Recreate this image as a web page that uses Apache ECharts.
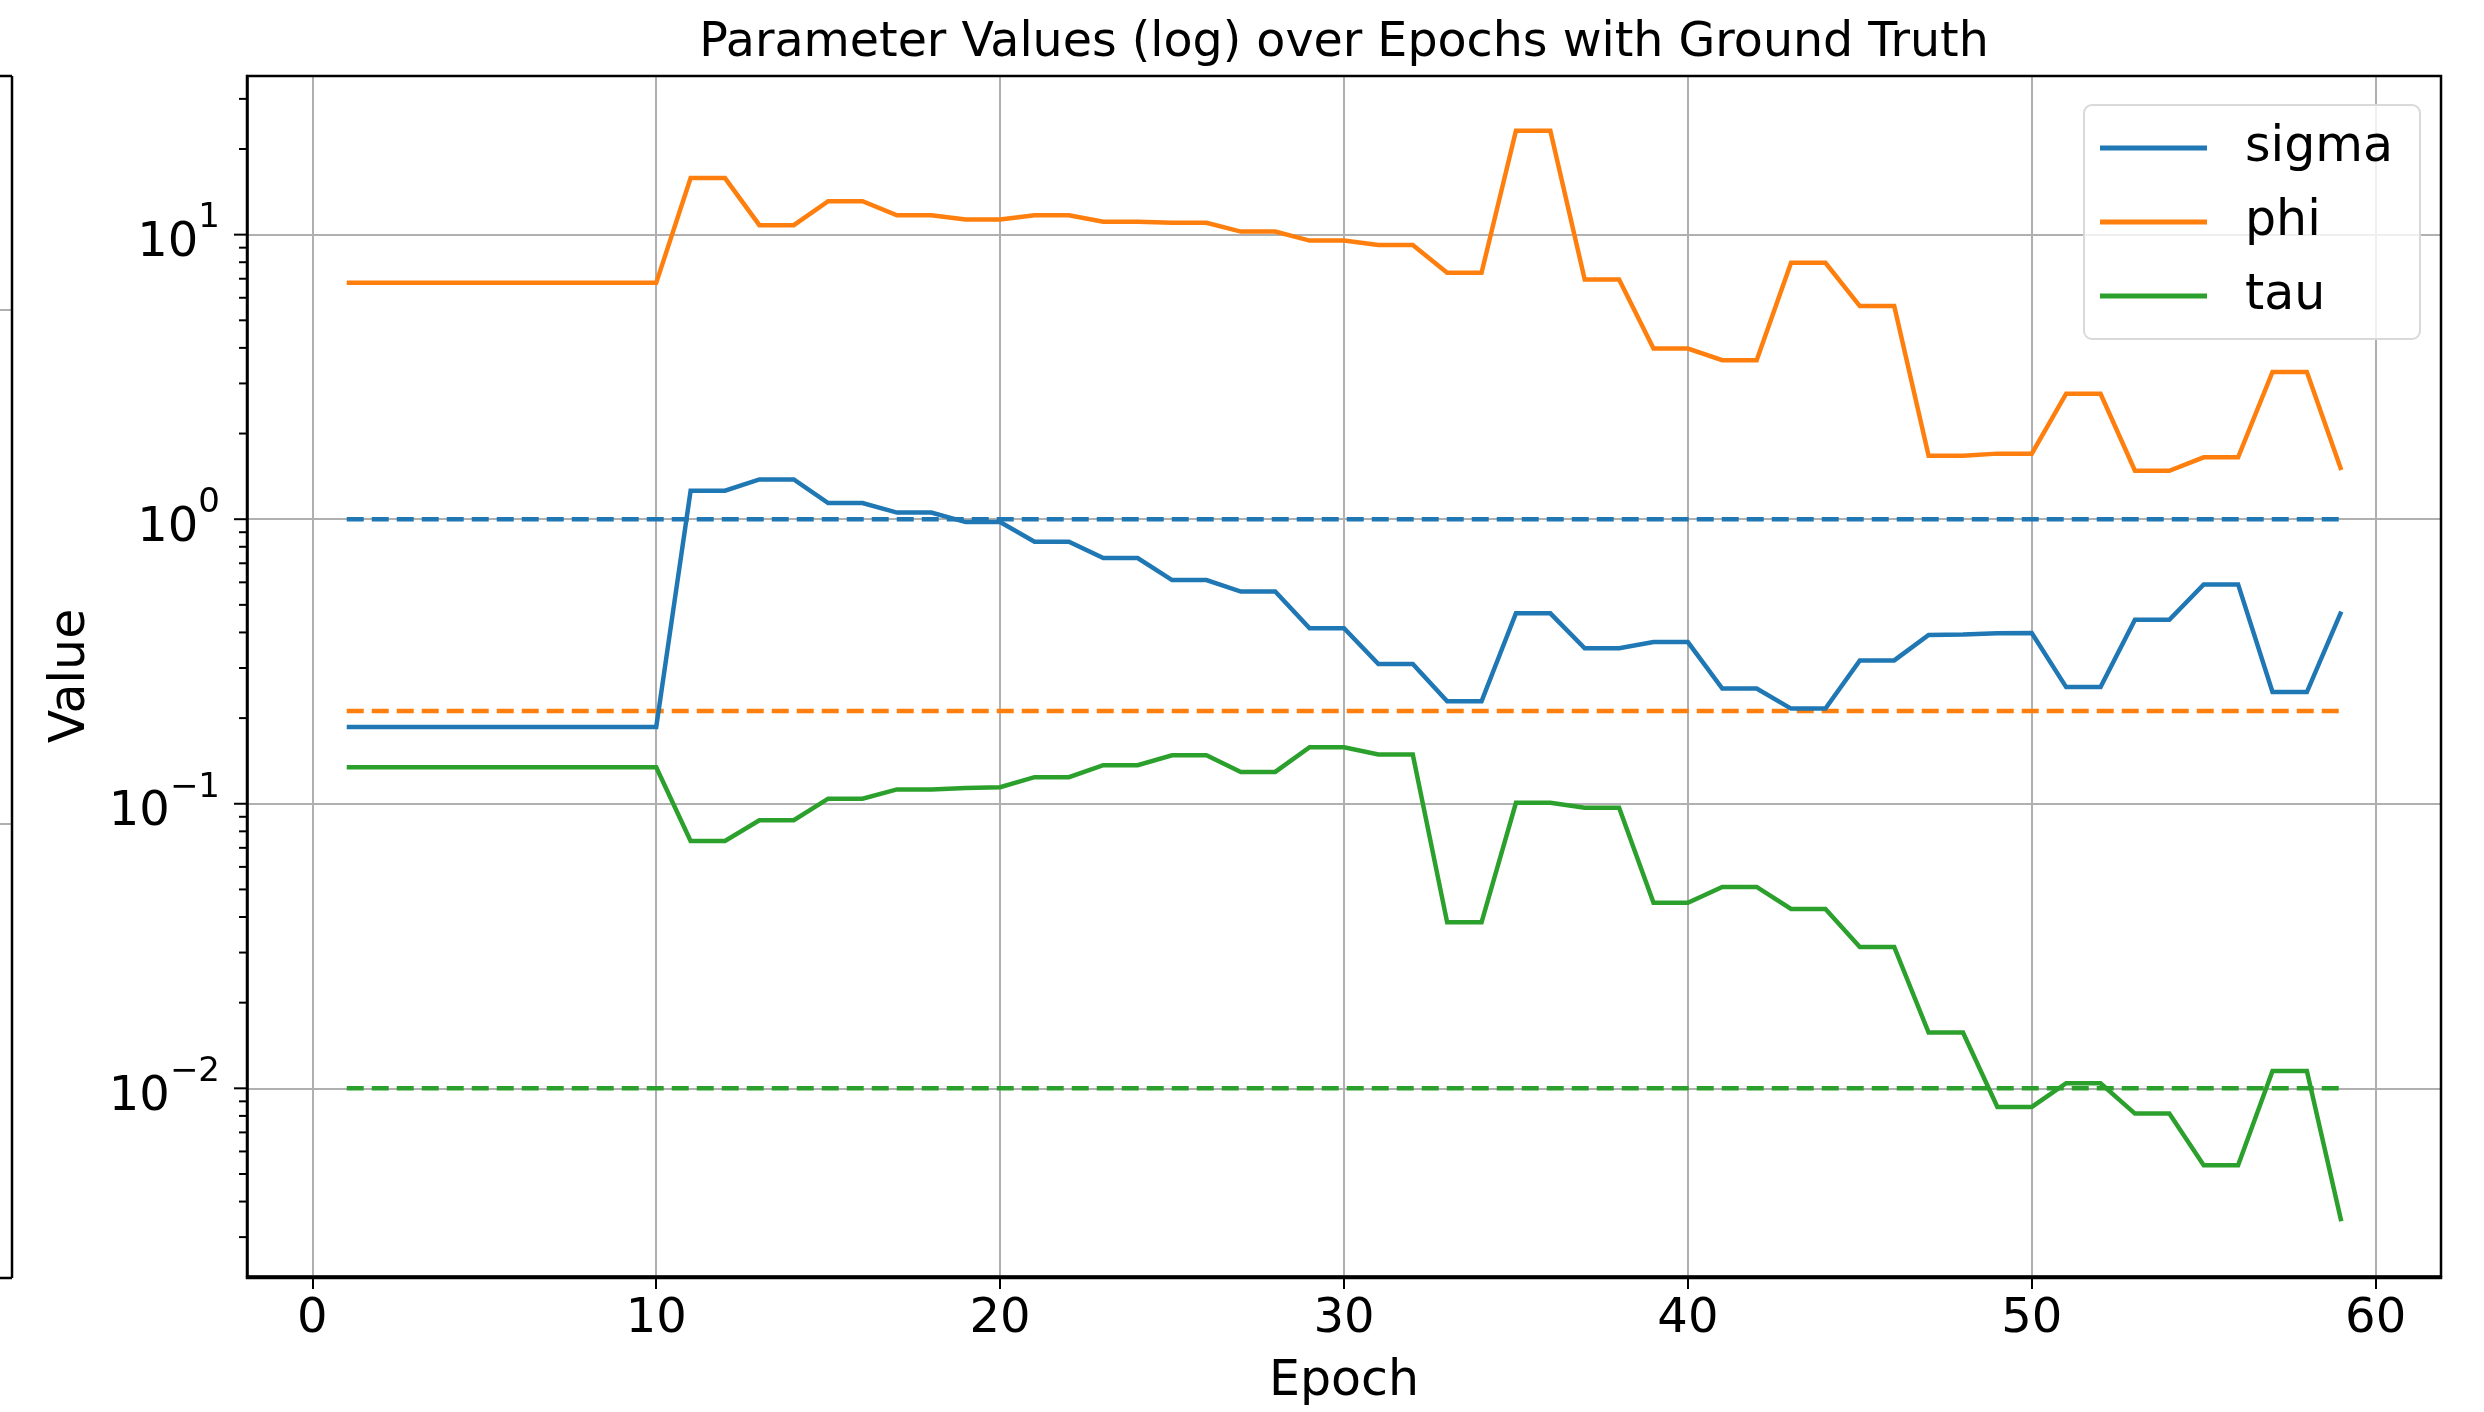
<!DOCTYPE html>
<html>
<head>
<meta charset="utf-8">
<script src="https://cdn.jsdelivr.net/npm/echarts@6/dist/echarts.min.js"></script>
<style>
html,body{margin:0;padding:0;background:#fff;}
#chart{width:2484px;height:1412px;}
</style>
</head>
<body>
<div id="chart"></div>
<script>
// ---- data ----
const epochs = [1,2,3,4,5,6,7,8,9,10,11,12,13,14,15,16,17,18,19,20,21,22,23,24,25,26,27,28,29,30,31,32,33,34,35,36,37,38,39,40,41,42,43,44,45,46,47,48,49,50,51,52,53,54,55,56,57,58,59];
const sigmaValues = [0.186,0.186,0.186,0.186,0.186,0.186,0.186,0.186,0.186,0.186,
  1.26,1.26,1.38,1.38,1.14,1.14,1.055,1.055,0.977,0.977,
  0.834,0.834,0.730,0.730,0.611,0.611,0.557,0.557,0.414,0.414,
  0.310,0.310,0.229,0.229,0.467,0.467,0.352,0.352,0.370,0.370,
  0.254,0.254,0.216,0.216,0.319,0.319,0.392,0.393,0.397,0.398,
  0.257,0.257,0.443,0.443,0.590,0.590,0.247,0.247,0.473];
const phiValues = [6.77,6.77,6.77,6.77,6.77,6.77,6.77,6.77,6.77,6.77,
  15.8,15.8,10.8,10.8,13.1,13.1,11.7,11.7,11.3,11.3,
  11.7,11.7,11.1,11.1,11.0,11.0,10.25,10.25,9.53,9.53,
  9.20,9.20,7.35,7.35,23.2,23.2,6.95,6.95,3.98,3.98,
  3.62,3.62,7.96,7.96,5.61,5.61,1.67,1.67,1.70,1.70,
  2.76,2.76,1.48,1.48,1.65,1.65,3.29,3.29,1.49];
const tauValues = [0.1344,0.1344,0.1344,0.1344,0.1344,0.1344,0.1344,0.1344,0.1344,0.1344,
  0.0740,0.0740,0.0875,0.0875,0.1042,0.1042,0.1123,0.1123,0.1135,0.1144,
  0.124,0.124,0.1367,0.1367,0.148,0.148,0.1294,0.1294,0.158,0.158,
  0.149,0.149,0.0383,0.0383,0.1008,0.1008,0.0968,0.0968,0.0449,0.0449,
  0.0510,0.0510,0.0427,0.0427,0.0314,0.0314,0.0157,0.0157,0.00860,0.00860,
  0.01042,0.01042,0.00815,0.00815,0.00537,0.00537,0.01150,0.01150,0.00341];
const groundTruth = {sigma: 1.0, phi: 0.212, tau: 0.01};
const seriesNames = ['sigma','phi','tau'];
const colors = ['#1f77b4','#ff7f0e','#2ca02c'];
const xTickValues = [0,10,20,30,40,50,60];
const yMajorTickValues = [0.01,0.1,1,10];
const yMinorTickValues = [0.003,0.004,0.005,0.006,0.007,0.008,0.009,
  0.02,0.03,0.04,0.05,0.06,0.07,0.08,0.09,
  0.2,0.3,0.4,0.5,0.6,0.7,0.8,0.9,
  2,3,4,5,6,7,8,9,
  20,30];
const xMin = -1.9, xMax = 61.9;
const yMin = 0.00219, yMax = 36.1;

// ---- layout ----
const FONT = 'DejaVu Sans';
const G = {left:247, top:76, right:2441, bottom:1278};

const chart = echarts.init(document.getElementById('chart'), null, {renderer:'canvas'});

function pair(xs, ys){ return xs.map((x,i)=>[x, ys[i]]); }
function gtLine(v){ return [[epochs[0], v],[epochs[epochs.length-1], v]]; }

const valueSets = [sigmaValues, phiValues, tauValues];
const gtVals = [groundTruth.sigma, groundTruth.phi, groundTruth.tau];

const series = [];
seriesNames.forEach((n,i)=>{
  series.push({
    name:n, type:'line', data:pair(epochs, valueSets[i]),
    showSymbol:false, symbol:'none', smooth:false,
    lineStyle:{color:colors[i], width:4.5, cap:'butt', join:'miter'},
    itemStyle:{color:colors[i]}, z:3, animation:false
  });
});
seriesNames.forEach((n,i)=>{
  series.push({
    name:n+' (GT)', type:'line', data:gtLine(gtVals[i]),
    showSymbol:false, symbol:'none',
    lineStyle:{color:colors[i], width:4.5, type:[17,8], cap:'butt'},
    itemStyle:{color:colors[i]}, z:2, animation:false
  });
});
// y-axis tick marks (major + minor), positioned through the axis scale
const tickData = yMajorTickValues.map(v=>[xMin, v, 13]).concat(yMinorTickValues.map(v=>[xMin, v, 8]));
series.push({
  type:'custom', silent:true, clip:false, animation:false, z:5,
  data: tickData,
  renderItem: function(params, api){
    const p = api.coord([api.value(0), api.value(1)]);
    const len = api.value(2);
    return {type:'line', shape:{x1:p[0]-len, y1:p[1], x2:p[0], y2:p[1]},
      style:{stroke:'#000', lineWidth:2}};
  }
});

function yLabel(v){
  const e = Math.round(Math.log10(v));
  return '{b|10}{s|' + (e<0 ? '\u2212' : '') + Math.abs(e) + '}';
}

const option = {
  backgroundColor:'#fff',
  animation:false,
  title:{
    text:'Parameter Values (log) over Epochs with Ground Truth',
    left:1339, top:15, textAlign:'center',
    textStyle:{fontFamily:FONT, fontSize:47.5, fontWeight:'normal', color:'#000'}
  },
  legend:{
    data:seriesNames, orient:'vertical', left:2084, top:105,
    icon:'rect', itemWidth:107, itemHeight:5, itemGap:24,
    padding:[18,27,18,16],
    backgroundColor:'rgba(255,255,255,0.8)', borderColor:'#d9d9d9', borderWidth:2, borderRadius:8,
    textStyle:{fontFamily:FONT, fontSize:49, color:'#000', lineHeight:50, padding:[0,0,0,33]}
  },
  grid:{left:G.left, top:G.top, width:G.right-G.left, height:G.bottom-G.top, containLabel:false},
  xAxis:{
    type:'value', min:xMin, max:xMax,
    name:'Epoch', nameLocation:'middle', nameGap:82,
    nameTextStyle:{fontFamily:FONT, fontSize:49, color:'#000'},
    axisLine:{show:true, onZero:false, lineStyle:{color:'#000', width:2.5}},
    axisTick:{show:true, length:13, inside:false, customValues:xTickValues, lineStyle:{color:'#000', width:2}},
    axisLabel:{customValues:xTickValues, fontFamily:FONT, fontSize:48, color:'#000', margin:20},
    splitLine:{show:true, lineStyle:{color:'#b0b0b0', width:2}}
  },
  yAxis:{
    type:'log', logBase:10, min:yMin, max:yMax,
    name:'Value', nameLocation:'middle', nameGap:151,
    nameTextStyle:{fontFamily:FONT, fontSize:49, color:'#000'},
    axisLine:{show:true, onZero:false, lineStyle:{color:'#000', width:2.5}},
    axisTick:{show:false},
    axisLabel:{formatter:yLabel, showMinLabel:false, showMaxLabel:false, margin:27,
      fontFamily:FONT, color:'#000',
      rich:{
        b:{fontFamily:FONT, fontSize:48, color:'#000', verticalAlign:'bottom', lineHeight:66},
        s:{fontFamily:FONT, fontSize:34, color:'#000', verticalAlign:'top', lineHeight:40}
      }},
    splitLine:{show:true, lineStyle:{color:'#b0b0b0', width:2}},
    minorTick:{show:false}, minorSplitLine:{show:false}
  },
  graphic:[
    // plot frame
    {type:'rect', z:100, silent:true, shape:{x:G.left, y:G.top, width:G.right-G.left, height:G.bottom-G.top},
      style:{fill:null, stroke:'#000', lineWidth:2.5}},
    // edge of a neighbouring panel, cut off at the left border
    {type:'line', z:100, silent:true, shape:{x1:12, y1:G.top, x2:12, y2:G.bottom}, style:{stroke:'#000', lineWidth:2.5}},
    {type:'line', z:100, silent:true, shape:{x1:0, y1:G.top, x2:12, y2:G.top}, style:{stroke:'#000', lineWidth:2.5}},
    {type:'line', z:100, silent:true, shape:{x1:0, y1:G.bottom, x2:12, y2:G.bottom}, style:{stroke:'#000', lineWidth:2.5}},
    {type:'line', z:99, silent:true, shape:{x1:0, y1:310, x2:11, y2:310}, style:{stroke:'#b0b0b0', lineWidth:2}},
    {type:'line', z:99, silent:true, shape:{x1:0, y1:824, x2:11, y2:824}, style:{stroke:'#b0b0b0', lineWidth:2}}
  ],
  series:series
};
chart.setOption(option);
</script>
</body>
</html>
